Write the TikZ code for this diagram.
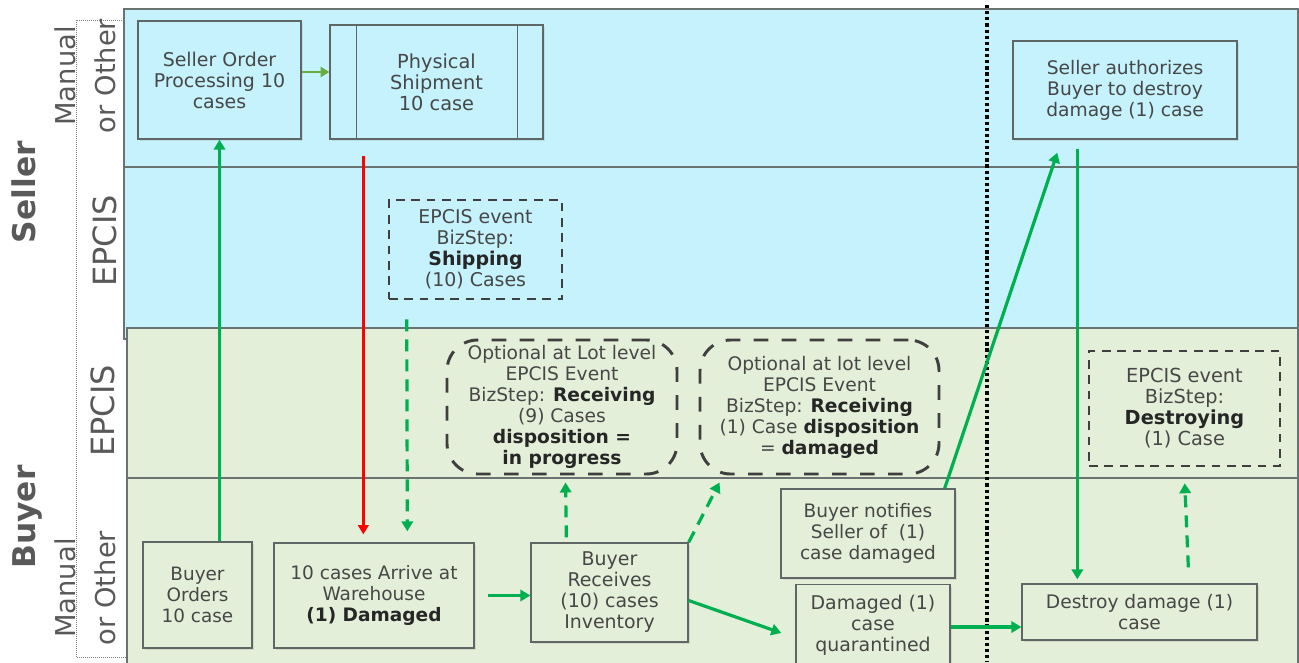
\documentclass[tikz,border=0pt]{standalone}
\usepackage{fontspec}
\setmainfont{DejaVu Sans}
\usetikzlibrary{arrows.meta,calc,shadows}
\definecolor{laneblue}{HTML}{C5F2FC}
\definecolor{lanegreen}{HTML}{E3EFD9}
\definecolor{laneline}{HTML}{6B7272}
\definecolor{boxline}{HTML}{5E6666}
\definecolor{txt}{HTML}{474747}
\definecolor{btxt}{HTML}{262626}
\definecolor{labtxt}{HTML}{595959}
\definecolor{gcol}{HTML}{00B050}
\definecolor{lgcol}{HTML}{6AAD3F}
\definecolor{rcol}{HTML}{FF0000}
\definecolor{dashc}{HTML}{3F3F3F}
\newcommand\boldtxt[1]{\textbf{\color{btxt}#1}}
\tikzset{
  sz/.style 2 args={minimum width=#1*0.75pt, minimum height=#2*0.75pt},
  fs/.style={font=\fontsize{#1}{15.75}\selectfont},
  solidbox/.style={draw=boxline, line width=1pt, align=center, text=txt, inner sep=0pt,
    drop shadow={opacity=0.18, shadow xshift=1.5pt, shadow yshift=-1.5pt}},
  dashbox/.style={draw=dashc, line width=1.9pt, dash pattern=on 6.5pt off 5pt, align=center, text=txt, inner sep=0pt},
  roundbox/.style={draw=dashc, line width=2.2pt, dash pattern=on 11pt off 10pt, rounded corners=23pt, align=center, text=txt, inner sep=0pt},
  gline/.style={draw=gcol, line width=2.4pt, -{Triangle[length=7.5pt,width=8.5pt]}},
  gdash/.style={gline, dash pattern=on 9pt off 6pt},
  lgline/.style={draw=lgcol, line width=2.2pt, -{Triangle[length=6.5pt,width=7.5pt]}},
  rline/.style={draw=rcol, line width=2.4pt, -{Triangle[length=7pt,width=8pt]}},
  lanelab/.style={rotate=90, text=labtxt, align=center, inner sep=0pt, font=\fontsize{20.5}{30}\selectfont},
  epcislab/.style={rotate=90, text=labtxt, inner sep=0pt, font=\fontsize{24}{28}\selectfont},
  rolelab/.style={rotate=90, text=labtxt, inner sep=0pt, font=\fontsize{23.5}{28}\selectfont\bfseries},
}
\begin{document}
\begin{tikzpicture}[x=0.75pt,y=-0.75pt]
\useasboundingbox (0,0) rectangle (1299,662);
% left dotted frame
\draw[gray, line width=0.5pt, densely dotted] (76,20) rectangle (127,657);
% lanes
\draw[fill=laneblue, draw=laneline, line width=1pt] (124,9) rectangle (1298,339);
\draw[laneline, line width=1pt] (124,167) -- (1298,167);
\draw[fill=lanegreen, draw=laneline, line width=1pt] (127,328) rectangle (1298,668);
\draw[laneline, line width=1pt] (127,478) -- (1298,478);
% lane labels
\node[rolelab] (lseller) at (24,192) {Seller};
\node[rolelab] (lbuyer) at (27,517) {Buyer};
\node[lanelab] (lsman) at (85,76) {Manual\\or Other};
\node[epcislab] (lsep) at (105,241) {EPCIS};
\node[epcislab] (lbep) at (103,411) {EPCIS};
\node[lanelab] (lbman) at (85,588) {Manual\\or Other};
% divider
\draw[black, line width=2.6pt, dash pattern=on 2.4pt off 2.2pt] (987,5) -- (987,662);
% seller manual nodes
\node[solidbox, fill=laneblue, sz={163}{118}, fs=14.2] (sop) at (219.5,80) {Seller Order\\Processing 10\\cases};
\node[solidbox, fill=laneblue, sz={213}{114}, fs=14.5] (ps) at (436.5,82) {Physical\\Shipment\\10 case};
\draw[boxline, line width=1pt] ([xshift=20.25pt]ps.north west) -- ([xshift=20.25pt]ps.south west);
\draw[boxline, line width=1pt] ([xshift=-19.5pt]ps.north east) -- ([xshift=-19.5pt]ps.south east);
\node[solidbox, fill=laneblue, sz={224}{98}, fs=14] (sa) at (1125,90) {Seller authorizes\\Buyer to destroy\\damage (1) case};
% seller epcis
\node[dashbox, sz={173}{99}, fs=14.2] (ship) at (475.5,249.5) {EPCIS event\\BizStep:\\\boldtxt{Shipping}\\(10) Cases};
% buyer epcis
\node[roundbox, sz={230}{134}, fs=14] (opt1) at (562,407) {Optional at Lot level\\EPCIS Event\\BizStep: \boldtxt{Receiving}\\(9) Cases\\\boldtxt{disposition =}\\\boldtxt{in progress}};
\node[roundbox, sz={239}{134}, fs=14] (opt2) at (819.5,407) {Optional at lot level\\EPCIS Event\\BizStep: \boldtxt{Receiving}\\(1) Case \boldtxt{disposition}\\= \boldtxt{damaged}};
\node[dashbox, sz={191}{115}, fs=14.5] (dest) at (1184.5,408.5) {EPCIS event\\BizStep:\\\boldtxt{Destroying}\\(1) Case};
% buyer manual
\node[solidbox, fill=lanegreen, sz={109}{106}, fs=13.8] (bo) at (197.5,595) {Buyer\\Orders\\10 case};
\node[solidbox, fill=lanegreen, sz={200}{105}, fs=13.9] (arr) at (374,595.5) {10 cases Arrive at\\Warehouse\\\boldtxt{(1) Damaged}};
\node[solidbox, fill=lanegreen, sz={157}{99}, fs=14.2] (rec) at (609.5,592.5) {Buyer\\Receives\\(10) cases\\Inventory};
\node[solidbox, fill=lanegreen, sz={174}{89}, fs=13.9] (bn) at (868,533.5) {Buyer notifies\\Seller of~~(1)\\case damaged};
\node[solidbox, fill=lanegreen, sz={154}{81}, fs=14.2] (dam) at (873,625) {Damaged (1)\\case\\quarantined};
\node[solidbox, fill=lanegreen, sz={235}{56}, fs=14] (dd) at (1139.5,612) {Destroy damage (1)\\case};
% connectors
\draw[gline] (bo.north -| sop.south) -- (sop.south);
\draw[lgline] ([yshift=6pt]sop.east) -- ([yshift=6pt]sop.east -| ps.west);
\draw[rline] ($(ps.south west)+(34,16)$) -- ($(arr.north west)+(90,-8)$);
\draw[gdash] ($(ship.south west)+(19,19)$) -- ($(arr.north west)+(134,-11)$);
\draw[gline, shorten <=9.75pt] (arr.east) -- (arr.east -| rec.west);
\draw[gdash] ($(rec.north west)+(36,-5)$) -- ($(opt1.south west)+(120,7)$);
\draw[gdash] (rec.north east) -- ($(opt2.south west)+(21,7)$);
\draw[gline] ($(rec.east)+(0,8)$) -- ($(dam.west)+(-14,8)$);
\draw[gline] ($(bn.north east)+(-11,0)$) -- ($(sa.south west)+(45,13)$);
\draw[gline] ($(sa.south west)+(65,9)$) -- ($(dd.north west)+(56,-4)$);
\draw[gline] ($(dam.east)+(0,2)$) -- ($(dd.west)+(0,15)$);
\draw[gdash] ($(dd.north west)+(167,-16)$) -- ($(dest.south west)+(97,16)$);
\end{tikzpicture}
\end{document}
